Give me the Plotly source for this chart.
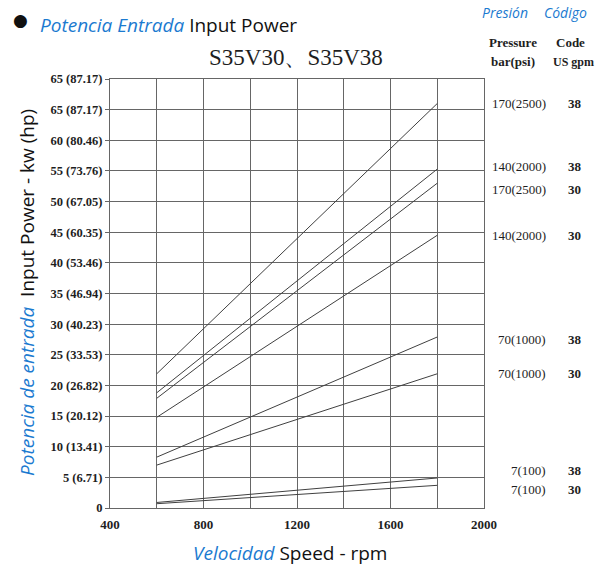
import plotly.graph_objects as go

# ---- data ----
speed_start = 600
speed_end = 1800
series_pressure = ["170(2500)", "140(2000)", "170(2500)", "140(2000)", "70(1000)", "70(1000)", "7(100)", "7(100)"]
series_code = ["38", "38", "30", "30", "38", "30", "38", "30"]
power_start = [21.9, 18.8, 17.9, 14.8, 8.3, 7.0, 0.9, 0.7]
power_end = [66.0, 55.3, 53.0, 44.5, 27.9, 21.9, 4.9, 3.7]
label_shift = [0, 3, -6, 0, -2, 0, 7, -4]

x_tickvals = [400, 600, 800, 1000, 1200, 1400, 1600, 1800, 2000]
x_ticktext = ["400", "", "800", "", "1200", "", "1600", "", "2000"]
y_tickvals = [0, 5, 10, 15, 20, 25, 30, 35, 40, 45, 50, 55, 60, 65, 70]
y_ticktext = ["0", "5 (6.71)", "10 (13.41)", "15 (20.12)", "20 (26.82)", "25 (33.53)",
              "30 (40.23)", "35 (46.94)", "40 (53.46)", "45 (60.35)", "50 (67.05)",
              "55 (73.76)", "60 (80.46)", "65 (87.17)", "65 (87.17)"]

BLUE = "#1b7ad0"
SERIF = "Liberation Serif"
SANS = "Open Sans"
INK = "#1e1e1e"

fig = go.Figure()
for i in range(len(power_start)):
    fig.add_trace(go.Scatter(
        x=[speed_start, speed_end], y=[power_start[i], power_end[i]],
        mode="lines", line=dict(color="#404040", width=1), showlegend=False,
        hoverinfo="skip"))

ann = []
for i in range(len(power_end)):
    ann.append(dict(x=1.171, y=power_end[i], xref="paper", yref="y", xanchor="right",
                    yanchor="middle", yshift=label_shift[i], showarrow=False,
                    text=series_pressure[i], font=dict(family=SERIF, size=13, color=INK)))
    ann.append(dict(x=1.243, y=power_end[i], xref="paper", yref="y", xanchor="center",
                    yanchor="middle", yshift=label_shift[i], showarrow=False,
                    text="<b>" + series_code[i] + "</b>", font=dict(family=SERIF, size=13, color=INK)))


def pa(x, y, text, font, xanchor="center", **kw):
    d = dict(x=x, y=y, xref="paper", yref="paper", xanchor=xanchor, yanchor="middle",
             showarrow=False, text=text, font=font)
    d.update(kw)
    return d


ann += [
    pa(0.497, 1.051, "S35V30、S35V38", dict(family=SERIF, size=23, color=INK)),
    pa(-0.2406, 1.138, "●", dict(family="DejaVu Sans", size=17, color="#111")),
    pa(-0.1925, 1.126, "<i><span style='color:%s'>Potencia Entrada</span></i> Input Power" % BLUE,
       dict(family=SANS, size=19, color="#111"), xanchor="left"),
    pa(1.056, 1.154, "<i>Presión</i>", dict(family=SANS, size=14, color=BLUE)),
    pa(1.219, 1.154, "<i>Código</i>", dict(family=SANS, size=14, color=BLUE)),
    pa(1.0775, 1.084, "<b>Pressure</b>", dict(family=SERIF, size=13, color=INK)),
    pa(1.0775, 1.040, "<b>bar(psi)</b>", dict(family=SERIF, size=13, color=INK)),
    pa(1.2326, 1.084, "<b>Code</b>", dict(family=SERIF, size=13, color=INK)),
    pa(1.238, 1.040, "<b>US gpm</b>", dict(family=SERIF, size=12, color=INK)),
    pa(-0.222, 0.5035, "<i><span style='color:%s'>Potencia de entrada</span></i>  Input Power - kw (hp)" % BLUE,
       dict(family=SANS, size=19, color="#111"), textangle=-90),
    pa(0.4813, -0.105, "<i><span style='color:%s'>Velocidad</span></i> Speed - rpm" % BLUE,
       dict(family=SANS, size=19, color="#111")),
]

fig.update_layout(
    width=603, height=568,
    margin=dict(l=110, r=119, t=79, b=60),
    paper_bgcolor="white", plot_bgcolor="white",
    annotations=ann,
    xaxis=dict(range=[400, 2000], tickvals=x_tickvals,
               ticktext=[("<b>" + t + "</b>") if t else "" for t in x_ticktext],
               showgrid=True, gridcolor="#666666", gridwidth=1,
               showline=True, linecolor="#666666", linewidth=1, mirror=True,
               zeroline=False, ticks="", tickfont=dict(family=SERIF, size=13, color=INK),
               ticklabelstandoff=4),
    yaxis=dict(range=[0, 70], tickvals=y_tickvals, ticktext=["<b>" + t + "</b>" for t in y_ticktext],
               showgrid=True, gridcolor="#666666", gridwidth=1,
               showline=True, linecolor="#666666", linewidth=1, mirror=True,
               zeroline=False, ticks="outside", ticklen=4, tickcolor="#666666",
               tickfont=dict(family=SERIF, size=12.5, color=INK)),
)

fig.write_html("out.html")
